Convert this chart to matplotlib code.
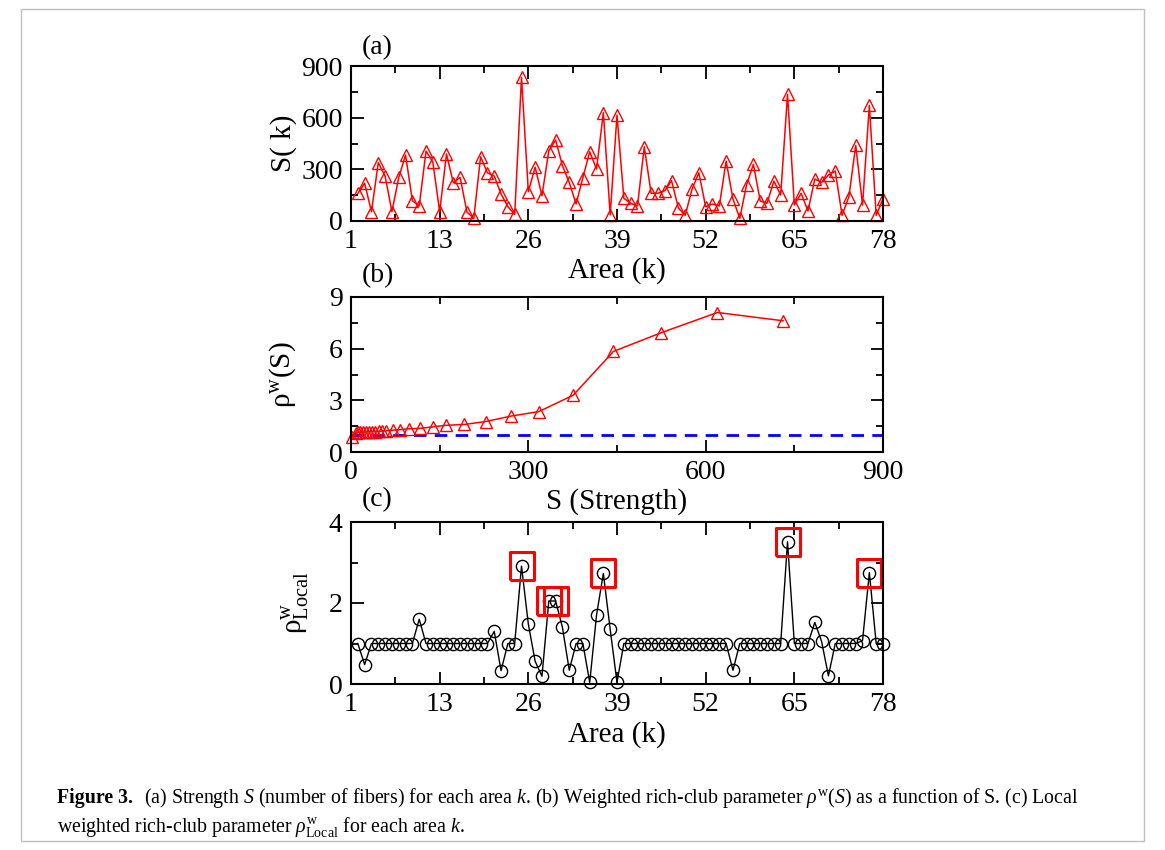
import matplotlib
matplotlib.use('Agg')
import matplotlib.pyplot as plt
from matplotlib.ticker import MultipleLocator, FixedLocator
from matplotlib.patches import Rectangle

plt.rcParams['font.family'] = ['Liberation Serif', 'DejaVu Serif']
plt.rcParams['mathtext.fontset'] = 'custom'
plt.rcParams['mathtext.rm'] = 'Liberation Serif'
plt.rcParams['mathtext.it'] = 'Liberation Serif:italic'
plt.rcParams['mathtext.bf'] = 'Liberation Serif:bold'
plt.rcParams['lines.scale_dashes'] = False

# (a) strength of each area
areas = list(range(1, 79))
strength = [160, 219, 54, 339, 261, 54, 253, 383, 118, 87,
            406, 342, 54, 389, 222, 253, 52, 15, 373, 280,
            261, 157, 83, 39, 834, 170, 312, 147, 408, 470,
            321, 224, 99, 252, 402, 302, 629, 35, 615, 132,
            103, 87, 431, 161, 161, 176, 234, 75, 33, 184,
            280, 83, 99, 87, 348, 128, 15, 211, 329, 116,
            103, 232, 151, 735, 93, 161, 58, 244, 224, 267,
            290, 33, 141, 439, 93, 671, 33, 128]

# (b) weighted rich-club parameter vs S
s_thr = [2, 8, 12, 16, 20, 25, 30, 35, 41, 47, 53, 60, 71, 83,
         98, 116, 138, 161, 192, 228, 270, 318, 376, 444, 525, 620, 731]
rho_w = [0.9, 1.12, 1.15, 1.15, 1.15, 1.16, 1.17, 1.18, 1.19, 1.2, 1.22, 1.24, 1.27, 1.3,
         1.35, 1.37, 1.46, 1.55, 1.6, 1.77, 2.08, 2.35, 3.3, 5.84, 6.93, 8.1, 7.62]

# (c) local weighted rich-club parameter
rho_local = [1.0, 0.48, 1.0, 1.0, 1.0, 1.0, 1.0, 1.0, 1.0, 1.6,
             1.0, 1.0, 1.0, 1.0, 1.0, 1.0, 1.0, 1.0, 1.0, 1.0,
             1.3, 0.33, 1.0, 1.0, 2.91, 1.48, 0.56, 0.19, 2.05, 2.05,
             1.4, 0.34, 1.0, 1.0, 0.04, 1.7, 2.73, 1.35, 0.04, 1.0,
             1.0, 1.0, 1.0, 1.0, 1.0, 1.0, 1.0, 1.0, 1.0, 1.0,
             1.0, 1.0, 1.0, 1.0, 1.0, 0.34, 1.0, 1.0, 1.0, 1.0,
             1.0, 1.0, 1.0, 3.51, 1.0, 1.0, 1.0, 1.52, 1.05, 0.2,
             1.0, 1.0, 1.0, 1.0, 1.07, 2.75, 1.0, 1.0]
rich_areas = [25, 29, 30, 37, 64, 76]

area_ticks = [0, 13, 26, 39, 52, 65, 78]
area_labels = ['1', '13', '26', '39', '52', '65', '78']

W, H = 1165, 850
fig = plt.figure(figsize=(W / 100, H / 100), dpi=100)

def axes_px(left, top, right, bottom):
    ax = fig.add_axes([left / W, 1 - bottom / H, (right - left) / W, (bottom - top) / H])
    ax.patch.set_facecolor('none')
    return ax

def style(ax):
    for sp in ax.spines.values():
        sp.set_linewidth(1.5)
    ax.tick_params(which='both', direction='in', top=True, right=True, width=1.3,
                   labelsize=20, pad=6)
    ax.tick_params(which='major', length=9)
    ax.tick_params(which='minor', length=5)

ax1 = axes_px(351, 66, 883, 221)
ax2 = axes_px(351, 297, 883, 452)
ax3 = axes_px(351, 522, 883, 684)

# panel a
ax1.plot(areas, strength, color='red', lw=1.1, marker='^', ms=9, mfc='none',
         mec='red', mew=1.0, clip_on=False)
ax1.set_xlim(0, 78)
ax1.set_ylim(0, 900)
ax1.xaxis.set_major_locator(FixedLocator(area_ticks))
ax1.set_xticklabels(area_labels)
ax1.xaxis.set_minor_locator(MultipleLocator(6.5))
ax1.yaxis.set_major_locator(MultipleLocator(300))
ax1.yaxis.set_minor_locator(MultipleLocator(150))
style(ax1)
ax1.set_xlabel('Area (k)', fontsize=21, labelpad=2)
ax1.set_ylabel('S( k)', fontsize=21)
ax1.yaxis.set_label_coords(-0.102, 0.5)

# panel b
ax2.plot([0, 900], [1, 1], color='blue', lw=2.0, dashes=(9, 6))
ax2.plot(s_thr, rho_w, color='red', lw=1.1, marker='^', ms=9, mfc='none',
         mec='red', mew=1.0, clip_on=False)
ax2.set_xlim(0, 900)
ax2.set_ylim(0, 9)
ax2.xaxis.set_major_locator(MultipleLocator(300))
ax2.xaxis.set_minor_locator(MultipleLocator(150))
ax2.yaxis.set_major_locator(MultipleLocator(3))
ax2.yaxis.set_minor_locator(MultipleLocator(1.5))
style(ax2)
ax2.set_xlabel('S (Strength)', fontsize=21, labelpad=2)
ax2.set_ylabel(r'$\mathrm{\rho}^{\mathrm{w}}\mathrm{(S)}$', fontsize=21)
ax2.yaxis.set_label_coords(-0.1, 0.5)

# panel c
ax3.plot(areas, rho_local, color='black', lw=1.0, marker='o', ms=8.8, mfc='none',
         mec='black', mew=1.0, clip_on=False)
box = [(-0.88, -1), (0.88, -1), (0.88, 1), (-0.88, 1), (-0.88, -1)]
ax3.plot(rich_areas, [rho_local[k - 1] for k in rich_areas], ls='none', marker=box,
         ms=20, mfc='none', mec='red', mew=2.2, clip_on=False)
ax3.set_xlim(0, 78)
ax3.set_ylim(0, 4)
ax3.xaxis.set_major_locator(FixedLocator(area_ticks))
ax3.set_xticklabels(area_labels)
ax3.xaxis.set_minor_locator(MultipleLocator(6.5))
ax3.yaxis.set_major_locator(MultipleLocator(2))
ax3.yaxis.set_minor_locator(MultipleLocator(1))
style(ax3)
ax3.set_xlabel('Area (k)', fontsize=21, labelpad=3)
ax3.set_ylabel(r'$\mathrm{\rho}^{\mathrm{w}}_{\mathrm{Local}}$', fontsize=21)
ax3.yaxis.set_label_coords(-0.075, 0.5)

# panel letters
fig.text(362 / W, 1 - 48 / H, '(a)', fontsize=20, va='center')
fig.text(362 / W, 1 - 276 / H, '(b)', fontsize=20, va='center')
fig.text(362 / W, 1 - 500 / H, '(c)', fontsize=20, va='center')

# frame
fig.patches.append(Rectangle((21 / W, 9 / H), 1123 / W, 832 / H, transform=fig.transFigure,
                             fill=False, edgecolor='#c0c0c0', lw=1.0))

# caption
fig.canvas.draw()
r = fig.canvas.get_renderer()
t = fig.text(57 / W, 1 - 798 / H, 'Figure 3.', fontsize=14.3, fontweight='bold', va='center')
bb = t.get_window_extent(renderer=r)
fig.text(bb.x1 / W + 11 / W, 1 - 798 / H,
         r'(a) Strength $S$ (number of fibers) for each area $k$. (b) Weighted rich-club parameter '
         r'$\rho^{\mathrm{w}}(S)$ as a function of S. (c) Local',
         fontsize=14.3, va='center')
fig.text(57 / W, 1 - 827 / H,
         r'weighted rich-club parameter $\rho^{\mathrm{w}}_{\mathrm{Local}}$ for each area $k$.',
         fontsize=14.3, va='center')

fig.savefig('out.png', dpi=100)
